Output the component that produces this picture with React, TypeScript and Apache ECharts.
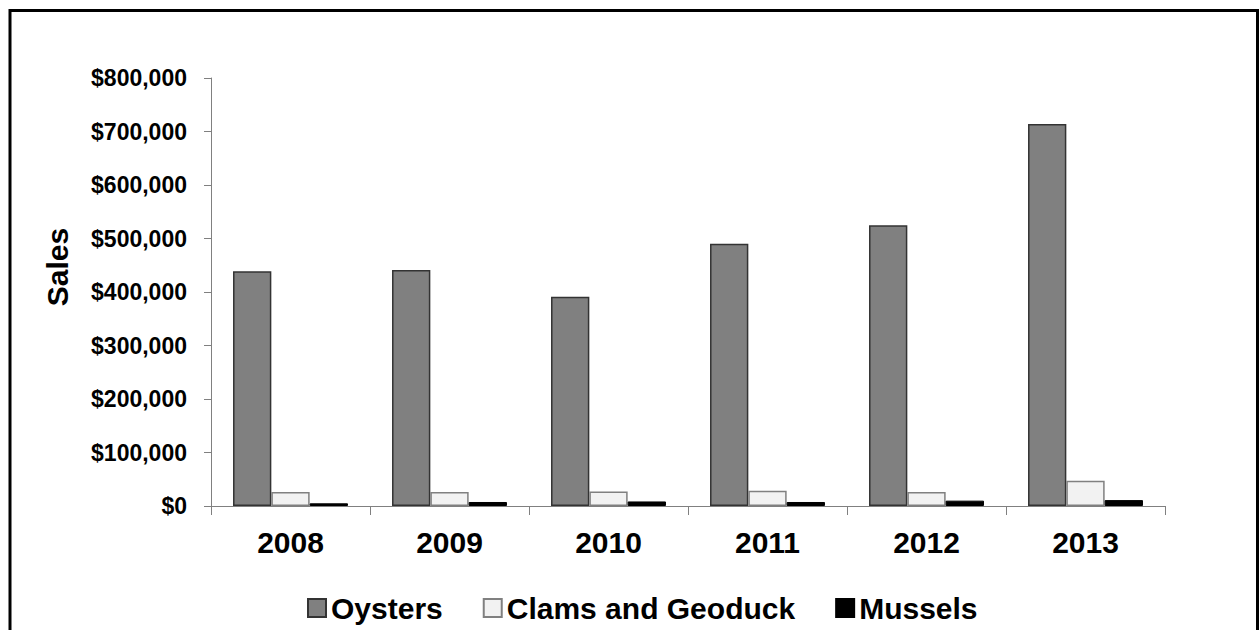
import React, { useEffect, useRef } from "react";
import * as echarts from "echarts";

const categories = ["2008", "2009", "2010", "2011", "2012", "2013"];
const oysters = [439000, 441000, 391000, 490000, 525000, 714000];
const clams = [26000, 26000, 27000, 28500, 26000, 47000];
const mussels = [5000, 7500, 8500, 7500, 10000, 11000];
const seriesNames = ["Oysters", "Clams and Geoduck", "Mussels"];

const FONT = "'Liberation Sans', Arial, sans-serif";

export default function App() {
  const ref = useRef<HTMLDivElement>(null);
  useEffect(() => {
    if (!ref.current) return;
    const chart = echarts.init(ref.current, null, { renderer: "svg" });
    chart.setOption({
      animation: false,
      backgroundColor: "#ffffff",
      grid: { left: 211, right: 94, top: 78, bottom: 124, containLabel: false },
      legend: {
        data: seriesNames,
        top: 588,
        left: 302,
        itemWidth: 18,
        itemHeight: 18,
        itemGap: 40,
        icon: "rect",
        textStyle: { fontFamily: FONT, fontWeight: "bold", fontSize: 30, color: "#000" },
      },
      xAxis: {
        type: "category",
        data: categories,
        axisLine: { lineStyle: { color: "#808080", width: 1 } },
        axisTick: { show: true, length: 9, lineStyle: { color: "#808080" } },
        axisLabel: { margin: 21, fontFamily: FONT, fontWeight: "bold", fontSize: 30, color: "#000" },
      },
      yAxis: {
        type: "value",
        min: 0,
        max: 800000,
        interval: 100000,
        splitLine: { show: false },
        axisLine: { show: true, lineStyle: { color: "#808080", width: 1 } },
        axisTick: { show: true, length: 7, lineStyle: { color: "#808080" } },
        axisLabel: {
          margin: 24,
          fontFamily: FONT,
          fontWeight: "bold",
          fontSize: 23,
          color: "#000",
          formatter: (v: number) => "$" + v.toLocaleString("en-US"),
        },
      },
      graphic: [
        {
          type: "rect",
          shape: { x: 10, y: 10.5, width: 1247.5, height: 700 },
          style: { fill: "none", stroke: "#000", lineWidth: 3 },
          silent: true,
        },
        {
          type: "text",
          x: 57,
          y: 267,
          rotation: Math.PI / 2,
          style: {
            text: "Sales",
            fontFamily: FONT,
            fontWeight: "bold",
            fontSize: 30,
            fill: "#000",
            align: "center",
            verticalAlign: "middle",
          },
        },
      ],
      series: [
        {
          name: seriesNames[0],
          type: "bar",
          data: oysters,
          barGap: "0%",
          barCategoryGap: "27.7%",
          itemStyle: { color: "#808080", borderColor: "#333333", borderWidth: 1.5 },
        },
        {
          name: seriesNames[1],
          type: "bar",
          data: clams,
          barGap: "0%",
          barCategoryGap: "27.7%",
          itemStyle: { color: "#f2f2f2", borderColor: "#808080", borderWidth: 1.5 },
        },
        {
          name: seriesNames[2],
          type: "bar",
          data: mussels,
          barGap: "0%",
          barCategoryGap: "27.7%",
          itemStyle: { color: "#000000", borderColor: "#000000", borderWidth: 1 },
        },
      ],
    });
    return () => chart.dispose();
  }, []);
  return (
    <div
      ref={ref}
      style={{ position: "fixed", left: 0, top: 0, width: 1259, height: 630, background: "#fff" }}
    />
  );
}
